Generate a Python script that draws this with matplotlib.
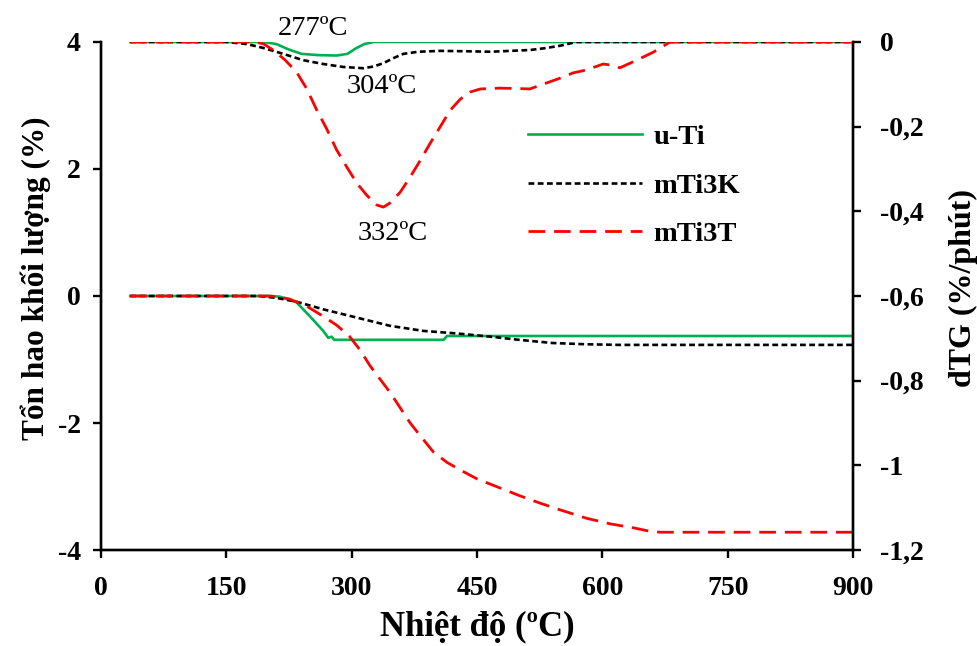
import matplotlib

matplotlib.use("Agg")
import matplotlib.pyplot as plt
from matplotlib import ticker

# TG curves (left axis, %)
t_uti_tg = [35, 200, 214, 234, 250, 266, 272, 276, 279, 300, 350, 410, 412, 414, 500, 600, 700, 800, 900]
uti_tg = [0, 0, -0.01, -0.10, -0.32, -0.55, -0.66, -0.64, -0.69, -0.69, -0.69, -0.69, -0.66, -0.63,
          -0.63, -0.63, -0.63, -0.63, -0.63]

t_k_tg = [35, 150, 189, 210, 234, 266, 306, 346, 386, 426, 466, 500, 540, 580, 620, 900]
k_tg = [0, 0, 0, -0.03, -0.09, -0.21, -0.34, -0.47, -0.55, -0.59, -0.64, -0.69, -0.74, -0.76, -0.77, -0.77]

t_t_tg = [35, 200, 212, 226, 246, 266, 282, 297, 310, 322, 334, 346, 358, 370, 382, 398, 414, 430,
          450, 477, 500, 525, 550, 581, 610, 637, 655, 669, 700, 900]
t_tg = [0, 0, -0.01, -0.05, -0.16, -0.32, -0.46, -0.63, -0.85, -1.10, -1.31, -1.52, -1.76, -2.0,
        -2.2, -2.46, -2.62, -2.74, -2.88, -3.02, -3.14, -3.26, -3.37, -3.50, -3.59, -3.65, -3.70,
        -3.72, -3.72, -3.72]

# DTG curves (right axis, %/phut)
t_uti_dtg = [35, 195, 210, 225, 240, 260, 282, 295, 305, 315, 326, 900]
uti_dtg = [0, 0, -0.005, -0.018, -0.028, -0.031, -0.032, -0.028, -0.015, -0.005, 0, 0]

t_k_dtg = [35, 150, 175, 194, 218, 242, 266, 290, 314, 326, 338, 350, 362, 380, 406, 440, 466, 490,
           513, 530, 549, 569, 900]
k_dtg = [0, 0, -0.005, -0.014, -0.028, -0.043, -0.052, -0.059, -0.062, -0.058, -0.050, -0.038,
         -0.028, -0.023, -0.021, -0.022, -0.023, -0.021, -0.019, -0.015, -0.009, 0, 0]

t_t_dtg = [35, 185, 195, 206, 220, 234, 246, 258, 270, 282, 294, 306, 318, 330, 338, 346, 358, 370,
           382, 394, 406, 418, 430, 442, 454, 477, 500, 513, 533, 550, 565, 581, 601, 612, 621, 641,
           661, 681, 900]
t_dtg = [0, 0, -0.005, -0.019, -0.042, -0.071, -0.11, -0.16, -0.205, -0.255, -0.295, -0.333, -0.362,
         -0.385, -0.39, -0.38, -0.355, -0.319, -0.28, -0.239, -0.20, -0.161, -0.135, -0.118, -0.111,
         -0.109, -0.11, -0.111, -0.097, -0.085, -0.073, -0.066, -0.052, -0.055, -0.061, -0.043,
         -0.024, 0, 0]

labels = ["u-Ti", "mTi3K", "mTi3T"]
# peak annotations: text, temperature, dTG (baseline position)
peaks = [("277ºC", 254, 0.0165), ("304ºC", 336, -0.120), ("332ºC", 349, -0.468)]

x_ticks = [0, 150, 300, 450, 600, 750, 900]
left_ticks = [4, 2, 0, -2, -4]
right_ticks = [0, -0.2, -0.4, -0.6, -0.8, -1.0, -1.2]
right_ticklabels = ["0", "-0,2", "-0,4", "-0,6", "-0,8", "-1", "-1,2"]


def main():
    plt.rcParams["font.family"] = ["Liberation Serif", "DejaVu Serif"]

    fig = plt.figure(figsize=(9.78, 6.46), dpi=100)
    ax = fig.add_axes([0.1033, 0.1486, 0.7689, 0.7864])
    ax2 = ax.twinx()

    green = "#00b050"
    red = "#ff0000"
    styles = [
        dict(color=green, linewidth=1.9, linestyle="-"),
        dict(color="black", linewidth=1.9, linestyle=(0, (2.2, 1.3))),
        dict(color=red, linewidth=2.0, linestyle=(0, (6.0, 3.2))),
    ]

    tg = [(t_uti_tg, uti_tg), (t_k_tg, k_tg), (t_t_tg, t_tg)]
    dtg = [(t_uti_dtg, uti_dtg), (t_k_dtg, k_dtg), (t_t_dtg, t_dtg)]

    for (tx, ty), st in zip(tg, styles):
        ax.plot(tx, ty, **st)
    handles = []
    for (tx, ty), st, lab in zip(dtg, styles, labels):
        (h,) = ax2.plot(tx, ty, label=lab, **st)
        handles.append(h)

    ax.set_xlim(0, 900)
    ax.set_ylim(-4, 4)
    ax2.set_ylim(-1.2, 0)
    ax.set_xticks(x_ticks)
    ax.set_yticks(left_ticks)
    ax2.set_yticks(right_ticks)
    ax2.set_yticklabels(right_ticklabels)
    ax.yaxis.set_major_formatter(ticker.FuncFormatter(lambda v, p: "%d" % v))

    for a in (ax, ax2):
        a.spines["top"].set_visible(False)
        for s in a.spines.values():
            s.set_linewidth(1.7)
        a.tick_params(axis="both", direction="out", length=5.5, width=1.7, labelsize=20)
        for lab in a.get_xticklabels() + a.get_yticklabels():
            lab.set_fontweight("bold")
    ax.tick_params(axis="x", pad=13)
    ax.tick_params(axis="y", pad=9)
    ax2.tick_params(axis="y", pad=14)

    ax.set_xlabel("Nhiệt độ (ºC)", fontsize=25, fontweight="bold", labelpad=7)
    ax.set_ylabel("Tổn hao khối lượng (%)", fontsize=22.5, fontweight="bold")
    ax2.set_ylabel("dTG (%/phút)", fontsize=23, fontweight="bold")
    ax.yaxis.set_label_coords(-0.066, 0.535)
    ax2.yaxis.set_label_coords(1.127, 0.516)

    for txt, x, y in peaks:
        ax2.text(x, y, txt, fontsize=20.5, ha="center", va="baseline")

    ax2.legend(
        handles=handles,
        loc="upper left",
        bbox_to_anchor=(528 / 978, 1 - 124 / 646),
        bbox_transform=fig.transFigure,
        frameon=False,
        borderpad=0,
        borderaxespad=0,
        handlelength=4.0,
        handletextpad=0.4,
        labelspacing=0.8,
        prop={"weight": "bold", "size": 20.5},
    )

    fig.savefig("out.png", dpi=100)


if __name__ == "__main__":
    main()
